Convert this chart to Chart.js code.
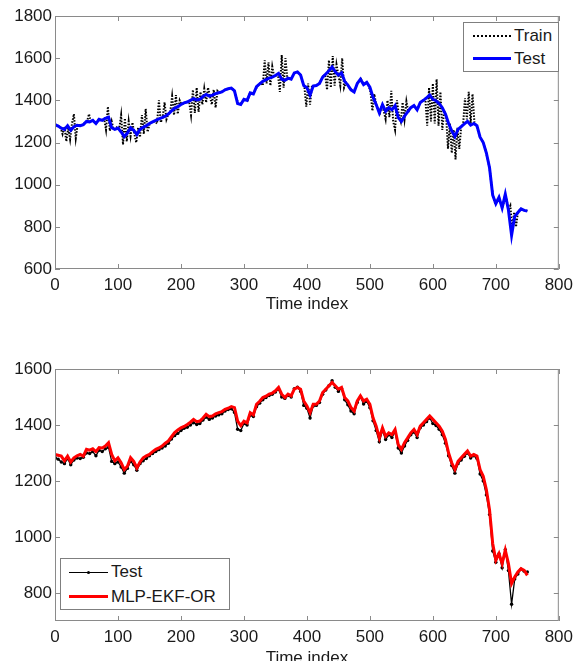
<!DOCTYPE html>
<html>
<head>
<meta charset="utf-8">
<script src="https://cdn.jsdelivr.net/npm/chart.js@4.4.0/dist/chart.umd.min.js"></script>
<style>
  body { margin: 0; width: 579px; height: 661px; overflow: hidden; background: #fff;
         font-family: "Liberation Sans", Arial, sans-serif; }
  canvas { position: absolute; left: 0; }
  #topChart { top: 0; }
  #bottomChart { top: 330px; }
  .legend { position: absolute; background: #fff; border: 1px solid #7f7f7f; font-size: 17px; color: #1a1a1a; }
  .legend .row { position: absolute; left: 0; right: 0; height: 20px; line-height: 20px; white-space: nowrap; }
  .legend .swatch { position: absolute; }
  .legend .label { position: absolute; left: 50px; top: 0; }
</style>
</head>
<body>
<canvas id="topChart" width="579" height="330"></canvas>
<canvas id="bottomChart" width="579" height="345"></canvas>

<div class="legend" style="left:463px; top:22px; width:94px; height:48px;">
  <div class="row" style="top:3px;">
    <div class="swatch" style="left:9px; top:9px; width:38px; border-top:2px dotted #000;"></div>
    <span class="label">Train</span>
  </div>
  <div class="row" style="top:26px;">
    <div class="swatch" style="left:9px; top:8px; width:38px; border-top:3px solid #0000ff;"></div>
    <span class="label">Test</span>
  </div>
</div>

<div class="legend" style="left:60px; top:558px; width:168px; height:50px;">
  <div class="row" style="top:3px;">
    <div class="swatch" style="left:8px; top:10px; width:39px; border-top:1px solid #000;"></div>
    <div class="swatch" style="left:26px; top:9px; width:3px; height:3px; background:#000; border-radius:50%;"></div>
    <span class="label">Test</span>
  </div>
  <div class="row" style="top:28px;">
    <div class="swatch" style="left:8px; top:8px; width:39px; border-top:3px solid #ff0000;"></div>
    <span class="label">MLP-EKF-OR</span>
  </div>
</div>

<script>
// Tick labels
const xTicks = [0, 100, 200, 300, 400, 500, 600, 700, 800];
const yTicksTop = [600, 800, 1000, 1200, 1400, 1600, 1800];
const yTicksBottom = [800, 1000, 1200, 1400, 1600];

// Test series, one value every 5 time steps (0..750)
const testValues = [
  1285, 1278, 1268, 1262, 1280, 1258, 1275, 1282, 1280, 1285,
  1300, 1298, 1305, 1290, 1310, 1305, 1315, 1320, 1270, 1262,
  1268, 1250, 1228, 1245, 1270, 1258, 1238, 1262, 1272, 1280,
  1290, 1298, 1305, 1312, 1318, 1325, 1335, 1350, 1362, 1370,
  1380, 1388, 1392, 1400, 1408, 1402, 1405, 1418, 1428, 1420,
  1425, 1432, 1436, 1440, 1450, 1455, 1458, 1445, 1385, 1380,
  1405, 1400, 1435, 1430, 1465, 1478, 1490, 1498, 1505, 1510,
  1518, 1528, 1500, 1495, 1505, 1500, 1530, 1535, 1520, 1470,
  1460, 1425, 1468, 1470, 1480, 1510, 1525, 1540, 1558, 1535,
  1520, 1530, 1490, 1472, 1450, 1440, 1480, 1500, 1475, 1485,
  1462, 1415, 1380, 1340, 1380, 1348, 1365, 1355, 1375, 1318,
  1300, 1325, 1345, 1365, 1375, 1355, 1390, 1400, 1412, 1425,
  1405, 1398, 1385, 1365, 1335, 1290, 1255, 1228, 1262, 1275,
  1288, 1300, 1282, 1290, 1280, 1225, 1200, 1150, 1080, 950,
  910, 940, 890, 955, 880, 760, 850, 868, 885, 878,
  875
];

// MLP-EKF-OR prediction, same time steps
const mlpValues = [
  1295, 1292, 1289, 1272, 1289, 1268, 1283, 1290, 1295, 1289,
  1313, 1310, 1315, 1305, 1319, 1318, 1325, 1337, 1295, 1272,
  1283, 1265, 1241, 1253, 1283, 1270, 1247, 1268, 1283, 1290,
  1295, 1305, 1313, 1318, 1325, 1335, 1343, 1358, 1373, 1382,
  1390, 1395, 1402, 1410, 1420, 1412, 1414, 1425, 1438, 1430,
  1432, 1440, 1444, 1448, 1456, 1460, 1466, 1462, 1414, 1398,
  1414, 1408, 1444, 1436, 1474, 1485, 1498, 1503, 1510, 1514,
  1522, 1534, 1510, 1498, 1510, 1504, 1528, 1534, 1528, 1486,
  1468, 1444, 1474, 1474, 1486, 1516, 1528, 1540, 1552, 1540,
  1528, 1534, 1498, 1486, 1462, 1450, 1486, 1504, 1486, 1492,
  1474, 1426, 1396, 1354, 1390, 1360, 1372, 1366, 1384, 1330,
  1313, 1337, 1354, 1372, 1384, 1366, 1396, 1408, 1420, 1432,
  1420, 1408, 1396, 1378, 1348, 1300, 1265, 1241, 1270, 1283,
  1295, 1307, 1289, 1295, 1289, 1241, 1217, 1169, 1097, 977,
  917, 941, 905, 953, 905, 834, 857, 875, 887, 881,
  863
];

// Train series, one value every 3 time steps (0..750)
const trainValues = [
  1285, 1283, 1278, 1270, 1240, 1275, 1205, 1270, 1215, 1290,
  1335, 1220, 1285, 1282, 1282, 1285, 1295, 1300, 1335, 1298,
  1305, 1295, 1292, 1308, 1310, 1305, 1312, 1260, 1370, 1255,
  1300, 1262, 1265, 1275, 1265, 1330, 1190, 1315, 1205, 1300,
  1230, 1295, 1240, 1200, 1270, 1225, 1330, 1240, 1360, 1250,
  1285, 1295, 1300, 1300, 1290, 1400, 1295, 1320, 1390, 1310,
  1335, 1345, 1420, 1330, 1425, 1335, 1400, 1380, 1385, 1390,
  1392, 1395, 1330, 1450, 1340, 1460, 1345, 1440, 1380, 1455,
  1390, 1460, 1420, 1380, 1450, 1365, 1445, 1436, 1440, 1445,
  1450, 1452, 1455, 1458, 1455, 1445, 1410, 1385, 1382, 1390,
  1405, 1402, 1400, 1430, 1435, 1430, 1450, 1465, 1475, 1485,
  1470, 1590, 1480, 1580, 1470, 1560, 1512, 1518, 1525, 1440,
  1615, 1460, 1600, 1500, 1505, 1500, 1520, 1530, 1535, 1530,
  1520, 1490, 1465, 1370, 1480, 1380, 1470, 1468, 1470, 1475,
  1480, 1500, 1515, 1520, 1450, 1590, 1460, 1610, 1470, 1570,
  1520, 1470, 1600, 1460, 1485, 1472, 1458, 1450, 1442, 1460,
  1480, 1492, 1500, 1480, 1478, 1485, 1470, 1440, 1350, 1430,
  1380, 1355, 1340, 1375, 1350, 1310, 1400, 1320, 1445, 1300,
  1260, 1400, 1330, 1300, 1390, 1310, 1395, 1345, 1362, 1368,
  1375, 1362, 1358, 1385, 1395, 1400, 1408, 1280, 1460, 1300,
  1480, 1290, 1500, 1280, 1440, 1260, 1350, 1330, 1170, 1290,
  1150, 1260, 1120, 1270, 1170, 1275, 1285, 1410, 1310, 1440,
  1290, 1430, 1295, 1280, 1255, 1225, 1210, 1195, 1160, 1120,
  1080, 1000, 940, 910, 925, 940, 910, 890, 940, 930,
  880, 900, 790, 870, 800, 868, 880, 885, 880, 878,
  875
];

const toPoints = (values, step) => values.map((v, i) => ({ x: i * step, y: v }));

// MATLAB-style box with inward ticks, drawn from the scales
const boxPlugin = {
  id: 'matlabBox',
  afterDraw(chart) {
    const { ctx, chartArea: a, scales } = chart;
    const len = 5;
    ctx.save();
    ctx.strokeStyle = '#8a8a8a';
    ctx.lineWidth = 1;
    ctx.strokeRect(a.left + 0.5, a.top + 0.5, a.right - a.left - 1, a.bottom - a.top - 1);
    ctx.beginPath();
    scales.x.ticks.forEach(t => {
      const px = Math.round(scales.x.getPixelForValue(t.value)) + 0.5;
      ctx.moveTo(px, a.bottom); ctx.lineTo(px, a.bottom - len);
      ctx.moveTo(px, a.top); ctx.lineTo(px, a.top + len);
    });
    scales.y.ticks.forEach(t => {
      const py = Math.round(scales.y.getPixelForValue(t.value)) + 0.5;
      ctx.moveTo(a.left, py); ctx.lineTo(a.left + len, py);
      ctx.moveTo(a.right, py); ctx.lineTo(a.right - len, py);
    });
    ctx.stroke();
    ctx.restore();
  }
};

Chart.defaults.font.family = '"Liberation Sans", Arial, sans-serif';
Chart.defaults.font.size = 17;
Chart.defaults.color = '#1a1a1a';

function axes(yMin, yMax, yTicks, xHeight) {
  return {
    x: {
      type: 'linear', min: 0, max: 800,
      afterBuildTicks: s => { s.ticks = xTicks.map(v => ({ value: v })); },
      afterFit: s => { s.height = xHeight; },
      grid: { display: false, drawTicks: false },
      border: { display: false },
      ticks: { padding: 6, autoSkip: false, maxRotation: 0, callback: v => String(v) },
      title: { display: true, text: 'Time index', padding: 0 }
    },
    y: {
      type: 'linear', min: yMin, max: yMax,
      afterBuildTicks: s => { s.ticks = yTicks.map(v => ({ value: v })); },
      afterFit: s => { s.width = 55; },
      grid: { display: false, drawTicks: false },
      border: { display: false },
      ticks: { padding: 3, autoSkip: false, callback: v => String(v) }
    }
  };
}

new Chart(document.getElementById('topChart'), {
  type: 'line',
  data: {
    datasets: [
      {
        label: 'Train',
        data: toPoints(trainValues, 3),
        borderColor: '#000',
        borderWidth: 2,
        borderDash: [1.5, 1.5],
        pointRadius: 0,
        tension: 0,
        order: 2
      },
      {
        label: 'Test',
        data: toPoints(testValues, 5),
        borderColor: '#0000ff',
        borderWidth: 3,
        pointRadius: 0,
        tension: 0,
        order: 1
      }
    ]
  },
  options: {
    responsive: false,
    animation: false,
    layout: { padding: { top: 16, right: 15, bottom: 15, left: 0 } },
    plugins: { legend: { display: false }, tooltip: { enabled: false } },
    scales: axes(600, 1800, yTicksTop, 46)
  },
  plugins: [boxPlugin]
});

new Chart(document.getElementById('bottomChart'), {
  type: 'line',
  data: {
    datasets: [
      {
        label: 'Test',
        data: toPoints(testValues, 5),
        borderColor: '#000',
        borderWidth: 1.3,
        pointRadius: 1.7,
        pointBackgroundColor: '#000',
        pointBorderWidth: 0,
        tension: 0,
        order: 2
      },
      {
        label: 'MLP-EKF-OR',
        data: toPoints(mlpValues, 5),
        borderColor: '#ff0000',
        borderWidth: 3,
        pointRadius: 0,
        tension: 0,
        order: 1
      }
    ]
  },
  options: {
    responsive: false,
    animation: false,
    layout: { padding: { top: 39, right: 15, bottom: 6, left: 0 } },
    plugins: { legend: { display: false }, tooltip: { enabled: false } },
    scales: axes(700, 1600, yTicksBottom, 48)
  },
  plugins: [boxPlugin]
});
</script>
</body>
</html>
